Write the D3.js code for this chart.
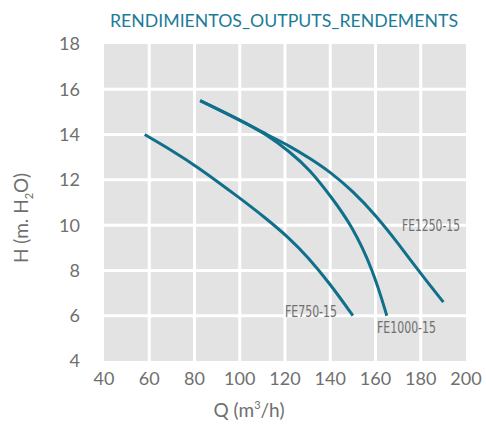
<!DOCTYPE html>
<html>
<head>
<meta charset="utf-8">
<script src="https://cdn.jsdelivr.net/npm/d3@7"></script>
<style>
  body { margin: 0; background: #fff; }
  svg { display: block; }
</style>
</head>
<body>
<svg id="chart" width="486" height="425"></svg>
<script>
// axis ticks
const xTicks = [40, 60, 80, 100, 120, 140, 160, 180, 200];
const yTicks = [4, 6, 8, 10, 12, 14, 16, 18];

// curves: Q (m3/h) and H (m)
const fe750Q = [58, 70, 81, 100, 111, 122, 130, 140, 150];
const fe750H = [14.0, 13.3, 12.6, 11.2, 10.35, 9.42, 8.6, 7.4, 6.0];

const fe1000Q = [82.5, 100, 112, 122, 131, 140, 149.5, 159, 165];
const fe1000H = [15.5, 14.65, 14.0, 13.25, 12.45, 11.3, 10.0, 8.0, 6.0];

const fe1250Q = [82.5, 100, 112, 122, 131, 140, 150, 160, 170, 180, 190];
const fe1250H = [15.5, 14.65, 14.0, 13.5, 12.95, 12.35, 11.5, 10.45, 9.2, 7.85, 6.6];

const curveNames = ['FE750-15', 'FE1000-15', 'FE1250-15'];

const svg = d3.select('#chart');

const x = d3.scaleLinear().domain([40, 200]).range([104, 466]);
const y = d3.scaleLinear().domain([4, 18]).range([361, 44]);

const grey = '#6f6f6f';
const teal = '#10708b';

// plot background
svg.append('rect')
    .attr('x', x(40)).attr('y', y(18))
    .attr('width', x(200) - x(40)).attr('height', y(4) - y(18))
    .attr('fill', '#e3e3e3');

// white grid
svg.append('g').selectAll('line')
    .data(xTicks.slice(1, -1))
    .join('line')
    .attr('x1', d => x(d)).attr('x2', d => x(d))
    .attr('y1', y(18)).attr('y2', y(4))
    .attr('stroke', '#fff').attr('stroke-width', 3);

svg.append('g').selectAll('line')
    .data(yTicks.slice(1, -1))
    .join('line')
    .attr('x1', x(40)).attr('x2', x(200))
    .attr('y1', d => y(d)).attr('y2', d => y(d))
    .attr('stroke', '#fff').attr('stroke-width', 3);

// tick labels
const tickFont = 'Lato, "Open Sans", sans-serif';

svg.append('g').selectAll('text')
    .data(xTicks)
    .join('text')
    .attr('x', d => x(d))
    .attr('y', 385)
    .attr('text-anchor', 'middle')
    .attr('font-family', tickFont)
    .attr('font-size', 18)
    .attr('fill', grey)
    .text(d => d);

svg.append('g').selectAll('text')
    .data(yTicks)
    .join('text')
    .attr('x', 80)
    .attr('y', d => y(d))
    .attr('dy', '0.36em')
    .attr('text-anchor', 'end')
    .attr('font-family', tickFont)
    .attr('font-size', 18)
    .attr('fill', grey)
    .text(d => d);

// axis titles
const xt = svg.append('text')
    .attr('x', 249).attr('y', 417)
    .attr('text-anchor', 'middle')
    .attr('font-family', tickFont)
    .attr('font-size', 19)
    .attr('fill', grey);
xt.append('tspan').text('Q (m');
xt.append('tspan').attr('font-size', 11).attr('dy', -8).text('3');
xt.append('tspan').attr('dy', 8).text('/h)');

const yt = svg.append('text')
    .attr('transform', 'translate(28,218) rotate(-90)')
    .attr('text-anchor', 'middle')
    .attr('font-family', tickFont)
    .attr('font-size', 19)
    .attr('fill', grey);
yt.append('tspan').text('H (m. H');
yt.append('tspan').attr('font-size', 11).attr('dy', 5).text('2');
yt.append('tspan').attr('dy', -5).text('O)');

// title
svg.append('text')
    .attr('x', 284).attr('y', 27)
    .attr('text-anchor', 'middle')
    .attr('font-family', tickFont)
    .attr('font-size', 18)
    .attr('textLength', 348)
    .attr('lengthAdjust', 'spacingAndGlyphs')
    .attr('fill', '#1b7c97')
    .text('RENDIMIENTOS_OUTPUTS_RENDEMENTS');

// curves
const series = [
    d3.zip(fe750Q, fe750H),
    d3.zip(fe1000Q, fe1000H),
    d3.zip(fe1250Q, fe1250H)
];

const line = d3.line()
    .x(d => x(d[0]))
    .y(d => y(d[1]))
    .curve(d3.curveBasis);

svg.append('g').selectAll('path')
    .data(series)
    .join('path')
    .attr('d', line)
    .attr('fill', 'none')
    .attr('stroke', teal)
    .attr('stroke-width', 3);

// curve labels
const labelPos = [[285, 316.5], [377, 332.5], [402, 231]];
svg.append('g').selectAll('text')
    .data(curveNames)
    .join('text')
    .attr('x', (d, i) => labelPos[i][0])
    .attr('y', (d, i) => labelPos[i][1])
    .attr('font-family', '"Liberation Sans Narrow", "DejaVu Sans Condensed", sans-serif')
    .attr('font-size', 15)
    .attr('textLength', (d, i) => [52, 59, 58][i])
    .attr('lengthAdjust', 'spacingAndGlyphs')
    .attr('fill', grey)
    .text(d => d);
</script>
</body>
</html>
